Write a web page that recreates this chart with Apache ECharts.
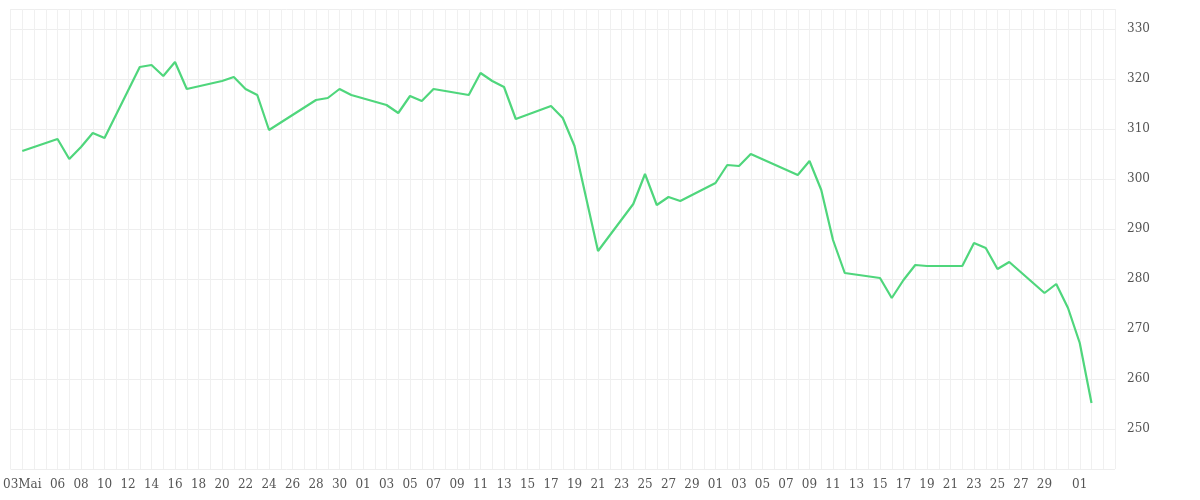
<!DOCTYPE html>
<html><head><meta charset="utf-8">
<script src="https://cdn.jsdelivr.net/npm/echarts@6/dist/echarts.min.js"></script>
<style>html,body{margin:0;padding:0;background:#fff}#c{width:1200px;height:500px}</style>
</head><body><div id="c"></div>
<script>
// day offsets from 03 May
const days = [0,3,4,5,6,7,10,11,12,13,14,17,18,19,20,21,25,26,27,28,31,32,33,34,35,38,39,40,41,42,45,46,47,49,52,53,54,55,56,59,60,61,62,66,67,68,69,70,73,74,75,76,77,80,81,82,83,84,87,88,89,90,91];
const values = [305.6,308,304,306.4,309.2,308.2,322.4,322.8,320.6,323.4,318,319.6,320.4,318,316.8,309.8,315.8,316.2,318,316.8,314.8,313.2,316.6,315.6,318,316.8,321.2,319.6,318.4,312,314.6,312.2,306.6,285.6,295,301,294.8,296.4,295.6,299.2,302.8,302.6,305,300.8,303.6,297.8,287.8,281.2,280.2,276.2,279.8,282.8,282.6,282.6,287.2,286.2,282,283.4,277.2,279,274.2,267.2,255.2];
const tickDays = [0,3,5,7,9,11,13,15,17,19,21,23,25,27,29,31,33,35,37,39,41,43,45,47,49,51,53,55,57,59,61,63,65,67,69,71,73,75,77,79,81,83,85,87,90];
const tickLabels = ['03Mai','06','08','10','12','14','16','18','20','22','24','26','28','30','01','03','05','07','09','11','13','15','17','19','21','23','25','27','29','01','03','05','07','09','11','13','15','17','19','21','23','25','27','29','01'];
const chart = echarts.init(document.getElementById('c'));
chart.setOption({
  animation:false,
  grid:{left:8,right:85,top:9,bottom:31},
  xAxis:{type:'value',min:-1,max:93,interval:1,
    axisLine:{show:false},axisTick:{show:false},
    splitLine:{show:true,lineStyle:{color:'#f0f0f0'}},
    axisLabel:{color:'#555',fontSize:12,fontFamily:'DejaVu Serif',margin:10,
      formatter:v=>{const i=tickDays.indexOf(v);return i>=0?tickLabels[i]:'';}}},
  yAxis:{type:'value',position:'right',min:242,max:334,splitNumber:9,
    axisLine:{show:false},axisTick:{show:false},
    splitLine:{lineStyle:{color:'#eeeeee'}},
    axisLabel:{color:'#555',fontSize:12,fontFamily:'DejaVu Serif',margin:12,
      formatter:v=>v%10===0?String(v):''}},
  series:[{type:'line',data:days.map((d,i)=>[d,values[i]]),showSymbol:false,
    lineStyle:{color:'#4fd67c',width:2.2},itemStyle:{color:'#4fd67c'}}]
});
</script></body></html>
